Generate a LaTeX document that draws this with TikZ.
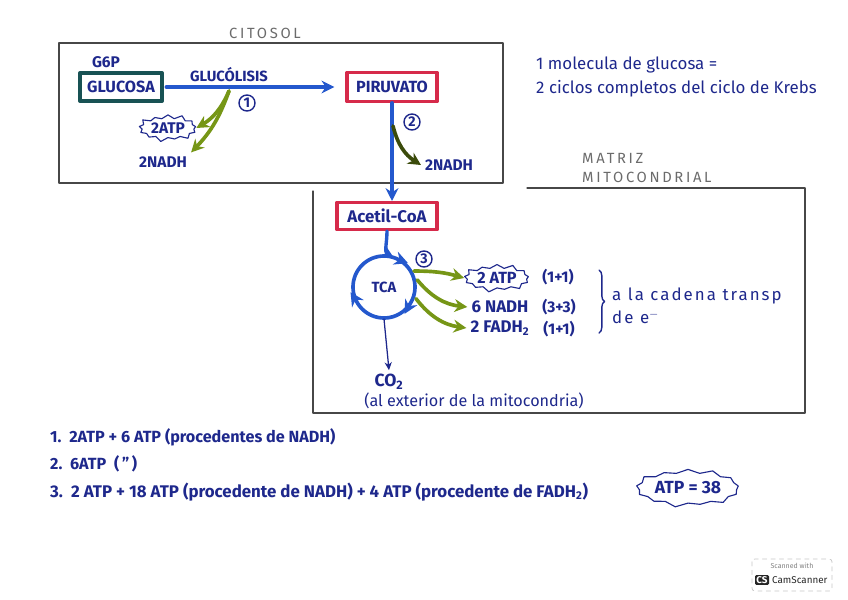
\documentclass[tikz,border=0pt]{standalone}
\usepackage{fontspec}
\setmainfont{Fira Sans}
\usetikzlibrary{arrows.meta,shapes.symbols,decorations.markings,decorations.pathreplacing}
\definecolor{KrebsInk}{RGB}{30,40,140}
\definecolor{KrebsBlue}{RGB}{36,88,205}
\definecolor{KrebsGreen}{RGB}{118,150,22}
\definecolor{KrebsRed}{RGB}{214,42,74}
\definecolor{KrebsTeal}{RGB}{24,82,84}
\definecolor{KrebsFrame}{gray}{0.28}
\definecolor{KrebsPencil}{gray}{0.42}
\newcommand\krebsfont[1]{\fontsize{#1}{#1}\selectfont}
\tikzset{
    krebs/diagram/.style={
        x=0.025cm, y=-0.025cm,
        font=\krebsfont{11}\bfseries,
        text=KrebsInk,
        line cap=round,
        line join=round,
        every node/.style={inner sep=2pt, outer sep=1pt}
    },
    krebs/frame/.style={draw=KrebsFrame, line width=0.8pt},
    krebs/heading/.style={
        text=KrebsPencil, font=\krebsfont{10.5}\addfontfeature{LetterSpace=18}
    },
    krebs/note/.style={font=\krebsfont{12}, align=left},
    krebs/start/.style={
        draw=KrebsTeal, line width=2.8pt, minimum width=2.05cm,
        minimum height=0.7cm, font=\krebsfont{11.5}\bfseries
    },
    krebs/product/.style={
        draw=KrebsRed, line width=2.6pt, minimum height=0.72cm,
        font=\krebsfont{11.5}\bfseries
    },
    krebs/flow/.style={
        draw=KrebsBlue, line width=2.4pt,
        -{Stealth[length=3.2mm, width=3.2mm]}
    },
    krebs/yield/.style={
        draw=KrebsGreen, line width=2.6pt,
        -{Stealth[length=3.2mm, width=3.2mm]}
    },
    krebs/out/.style={
        draw=KrebsInk, line width=0.9pt,
        -{Stealth[length=2mm, width=1.8mm]}
    },
    krebs/stepmark/.style={
        circle, draw=KrebsInk, line width=1pt, inner sep=0.6pt,
        minimum size=0.4cm, font=\krebsfont{10}\bfseries
    },
    krebs/burst/.style={
        starburst, starburst points=13, starburst point height=3.5pt,
        draw=KrebsInk, line width=0.8pt, font=\krebsfont{11}\bfseries, inner sep=1pt
    },
    krebs/cycle/.style={
        draw=KrebsBlue, line width=2.6pt,
        postaction={decorate},
        decoration={markings,
            mark=at position 0.19 with {\arrow{Stealth[reversed, length=3.4mm, width=3.4mm]}},
            mark=at position 0.59 with {\arrow{Stealth[reversed, length=3.4mm, width=3.4mm]}},
            mark=at position 0.92 with {\arrow{Stealth[reversed, length=3.4mm, width=3.4mm]}}}
    },
    krebs/brace/.style={
        draw=KrebsInk, line width=1pt,
        decorate, decoration={brace, amplitude=4pt}
    }
}

\begin{document}
\begin{tikzpicture}[krebs/diagram]
    \useasboundingbox (0,0) rectangle (848,599);
    \draw[krebs/frame] (59,43) rectangle (503,183);
    \draw[krebs/frame] (527,188) -- (805,188) -- (805,413) -- (313,413) -- (313,191);
    \node[krebs/heading] (Citosol) at (265,33) {CITOSOL};
    \node[krebs/heading, anchor=west, align=left] (Matriz) at (578,168)
        {MATRIZ\\[3pt]MITOCONDRIAL};
    \node[krebs/note, anchor=west] (Note) at (532,77)
        {1 molecula de glucosa =\\[5pt]2 ciclos completos del ciclo de Krebs};

    \node[krebs/start] (Glucosa) at (121,87) {GLUCOSA};
    \node (GSeisP) at (106,62) {G6P};
    \node[krebs/product, minimum width=2.25cm] (Piruvato) at (392,87) {PIRUVATO};
    \draw[krebs/flow, shorten >=8pt, shorten <=2pt] (Glucosa.east) -- (Piruvato.west)
        node[pos=0.36, above=1pt, font=\krebsfont{10.5}\bfseries] (Glucolisis) {GLUCÓLISIS};
    \coordinate (GlyBranch) at (229,91);
    \node[krebs/stepmark] (StepOne) at (247,103) {1};
    \node[krebs/burst] (ATPone) at (168,128) {2ATP};
    \node (NADHone) at (163,162) {2NADH};
    \draw[krebs/yield] (GlyBranch) to[bend left=18] (ATPone.east);
    \draw[krebs/yield] (GlyBranch) to[bend left=12] (NADHone.north east);

    \node[krebs/product, minimum width=2.5cm, minimum height=0.68cm, font=\krebsfont{12}\bfseries]
        (AcetilCoA) at (387,216) {Acetil-CoA};
    \draw[krebs/flow] (Piruvato.south) -- (Piruvato.south |- AcetilCoA.north);
    \coordinate (PirBranch) at (393,126);
    \node[krebs/stepmark] (StepTwo) at (412,122) {2};
    \node[anchor=west] (NADHtwo) at (421,165) {2NADH};
    \draw[krebs/yield, draw=KrebsGreen!50!black] (PirBranch) to[bend right=22] (NADHtwo.west);

    \node[circle, minimum size=1.55cm, inner sep=0pt, font=\krebsfont{10.5}\bfseries]
        (TCA) at (384,287) {TCA};
    \draw[krebs/cycle] (TCA.center) circle[radius=0.775cm];
    \coordinate (TCAin) at ([shift={(72:0.775cm)}]TCA.center);
    \draw[krebs/flow] (AcetilCoA.south) to[out=-90, in=150] (TCAin);
    \node[krebs/stepmark] (StepThree) at (424,259) {3};

    \node[krebs/burst, minimum width=1.65cm, minimum height=0.62cm, font=\krebsfont{11.5}\bfseries]
        (ATPtwo) at (497,278) {2 ATP};
    \node[font=\krebsfont{12}\bfseries] (NADHthree) at (500,307) {6 NADH};
    \node[font=\krebsfont{12}\bfseries] (FADH) at (500,328) {2 FADH\textsubscript{2}};
    \node (CountATP) at (558,277) {(1+1)};
    \node (CountNADH) at (559,307) {(3+3)};
    \node (CountFADH) at (559,329) {(1+1)};
    \coordinate (TCAoutA) at ([shift={(28:0.85cm)}]TCA.center);
    \coordinate (TCAoutB) at ([shift={(12:0.85cm)}]TCA.center);
    \coordinate (TCAoutC) at ([shift={(-20:0.85cm)}]TCA.center);
    \draw[krebs/yield] (TCAoutA) to[bend left=8] (ATPtwo.west);
    \draw[krebs/yield] (TCAoutB) to[bend right=22] (NADHthree.west);
    \draw[krebs/yield] (TCAoutC) to[bend right=22] (FADH.west);
    \coordinate (BraceTop) at (599,270);
    \coordinate (BraceBottom) at (599,333);
    \draw[krebs/brace] (BraceTop) -- (BraceBottom);
    \node[krebs/note, font=\krebsfont{12}\addfontfeature{LetterSpace=12}, anchor=west]
        (Cadena) at (608,306) {a la cadena transp\\[4pt]de e$^{-}$};

    \node[font=\krebsfont{12.5}\bfseries] (CO) at (389,382) {CO\textsubscript{2}};
    \draw[krebs/out] ([yshift=-0.8cm]TCA.center) -- (CO.north);
    \node[font=\krebsfont{11.5}] (Exterior) at (474,401) {(al exterior de la mitocondria)};

    \node[font=\krebsfont{11.5}\bfseries, anchor=west] (LineOne) at (46,437)
        {1.\ \ 2ATP + 6 ATP (procedentes de NADH)};
    \node[font=\krebsfont{11.5}\bfseries, anchor=west] (LineTwo) at (46,464)
        {2.\ \ 6ATP\ \ (\,"\,)};
    \node[font=\krebsfont{12}\bfseries, anchor=west] (LineThree) at (46,492)
        {3.\ \ 2 ATP + 18 ATP (procedente de NADH) + 4 ATP (procedente de FADH\textsubscript{2})};
    \node[krebs/burst, minimum width=2.45cm, minimum height=1cm, font=\krebsfont{12.5}\bfseries]
        (Total) at (688,488) {ATP = 38};

    \draw[draw=gray!45, dashed, line width=0.5pt, rounded corners=2pt] (752,559) rectangle (832,591);
    \node[font=\tiny\mdseries, text=gray] (Scanned) at (792,566) {Scanned with};
    \node[font=\scriptsize\bfseries, fill=black!85, text=white, inner sep=1pt,
        rounded corners=1pt] (CSlogo) at (762,580) {CS};
    \node[font=\scriptsize\mdseries, text=black!85, anchor=west] (CamScanner) at (768,580) {CamScanner};
\end{tikzpicture}
\end{document}
